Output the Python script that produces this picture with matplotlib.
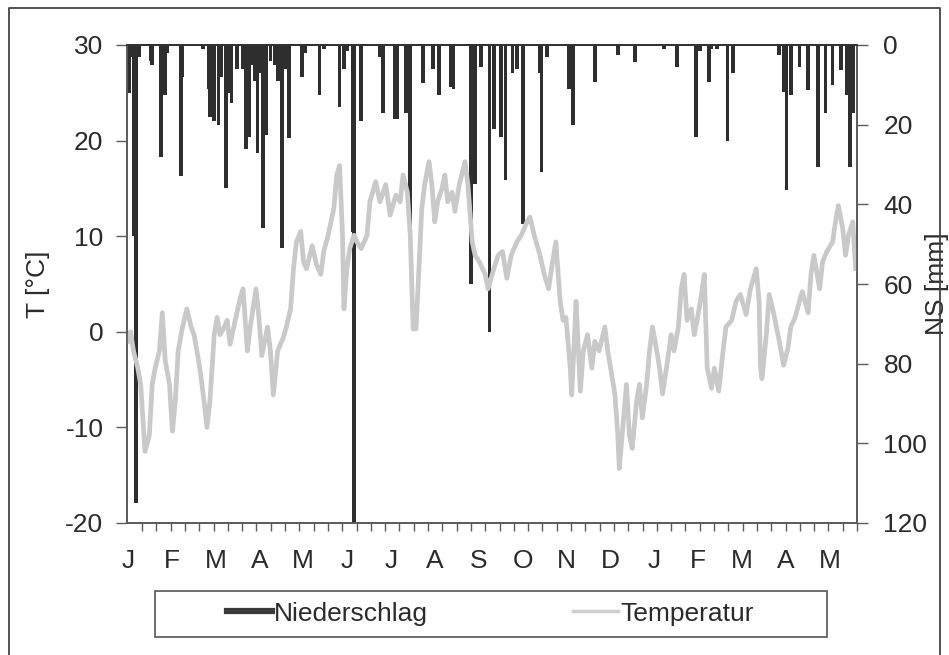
import numpy as np
import matplotlib
matplotlib.use("Agg")
import matplotlib.pyplot as plt
from matplotlib.lines import Line2D

plt.rcParams['font.family'] = ['Liberation Sans', 'DejaVu Sans']
plt.rcParams['axes.unicode_minus'] = False

# days counted from 1 January, daily mean temperature (deg C)
temp_day = [0, 2, 4, 7, 9, 12, 15, 17, 19, 22, 24, 26, 29, 31, 33, 35, 38, 41, 44, 46,
            48, 50, 53, 55, 57, 60, 62, 64, 67, 69, 71, 75, 78, 80, 83, 85, 89, 91, 93, 97,
            99, 101, 104, 106, 108, 110, 113, 115, 117, 120, 122, 124, 128, 131, 134, 136, 139, 143, 145, 147,
            149, 150, 152, 154, 157, 159, 162, 166, 168, 172, 175, 179, 182, 186, 189, 191, 194, 196, 198, 200,
            202, 204, 206, 209, 211, 213, 215, 218, 220, 222, 225, 227, 230, 234, 236, 239, 241, 244, 248, 250,
            254, 257, 260, 263, 266, 270, 273, 277, 279, 282, 286, 289, 292, 294, 297, 300, 302, 304, 307, 308,
            310, 311, 314, 316, 319, 322, 324, 327, 331, 333, 335, 338, 340, 341, 344, 346, 348, 350, 353, 355,
            357, 360, 362, 364, 367, 369, 371, 374, 377, 379, 382, 384, 386, 388, 391, 393, 395, 398, 400, 402,
            405, 407, 410, 413, 415, 419, 422, 425, 429, 432, 436, 438, 439, 440, 443, 445, 448, 452, 455, 458,
            460, 463, 466, 468, 472, 474, 476, 480, 482, 485, 489, 491, 493, 496, 498, 500, 503, 505]
temp_val = [-1, 0, -2, -3.8, -5.5, -12.5, -10.8, -5.5, -3.8, -2, 2, -3, -5.5, -10.4, -7.3, -2, 0.5, 2.4, 0.5, -0.3,
            -2, -3.8, -7.3, -10, -7.3, -0.3, 1.5, -0.3, 0.5, 1.2, -1.3, 1.5, 3.5, 4.5, -2, 0.5, 4.5, 1.5, -2.5, 0.5,
            -2, -6.6, -2, -1.3, -0.6, 0.5, 2.4, 6.6, 9.4, 10.5, 7.3, 6.6, 9, 7, 6, 8.4, 10.1, 12.9, 16.4, 17.4,
            10.1, 2.4, 6.6, 8.7, 10.1, 9.4, 8.7, 10.1, 13.6, 15.7, 13.6, 15.4, 12.2, 14.3, 13.6, 16.4, 14.6, 10.1, 0.3, 0.3,
            6.6, 12.9, 15.4, 17.8, 15.4, 11.5, 13.6, 15, 16.4, 13.6, 14.6, 12.6, 15.4, 17.8, 15.4, 9.4, 8, 7.3, 6, 4.5,
            6.6, 8, 8.4, 5.6, 8, 9.4, 10.1, 11.5, 12, 10.1, 8, 6, 4.5, 6.6, 9.4, 3.2, 1.2, 1.5, -3.8, -6.6,
            -0.3, 3.2, -6.2, -2, -0.3, -3.8, -1, -2, 0.5, -2, -3.8, -6.6, -10.8, -14.3, -9, -5.5, -10.8, -12.2, -7.3, -5.5,
            -9, -5.5, -2, 0.5, -2, -3.8, -6.5, -3.5, -0.3, -2, 0.5, 4.5, 6, 1.2, 2.4, -0.3, 1.2, 3.9, 6, -3.8,
            -5.9, -3.8, -6.2, -2, 0.5, 1.2, 3.2, 3.9, 1.8, 4.5, 6.6, 3.2, -3.8, -4.9, -0.3, 3.9, 2, -1, -3.5, -1.7,
            0.5, 1.5, 3.2, 4.2, 2, 6, 8, 4.5, 7.3, 8.4, 9.4, 11.5, 13.2, 10.8, 8, 10.1, 11.5, 6.6]

# days with precipitation (mm)
rain_day = [1, 2, 3, 4, 6, 8, 16, 17, 23, 25, 26, 27, 37, 38, 52, 56, 57, 58, 60, 63,
            65, 68, 70, 72, 76, 80, 82, 84, 86, 88, 90, 92, 94, 96, 99, 102, 104, 107, 109, 112,
            121, 123, 133, 136, 147, 150, 152, 156, 157, 162, 175, 177, 185, 187, 193, 196, 205, 212, 216, 224,
            226, 238, 241, 245, 251, 254, 259, 262, 267, 270, 274, 286, 287, 291, 306, 309, 324, 340, 352, 372,
            381, 394, 397, 403, 405, 409, 416, 420, 436, 452, 455, 457, 460, 466, 472, 479, 484, 489, 495, 499,
            501, 503]
rain_mm = [12, 3, 3, 48, 115, 3, 4, 5, 28, 3, 12.5, 2, 33, 8, 1, 11, 18, 11, 19, 20,
           8, 36, 12, 14.5, 6, 6, 26, 23, 5, 9, 27, 7, 46, 22.6, 4, 5, 9, 51, 6, 23.4,
           8, 2, 12.5, 1, 15.6, 6, 1.5, 47, 122, 19, 3, 17, 18.5, 18.5, 17, 48, 9.5, 6, 12.5, 10.5,
           11, 60, 35, 5.5, 72, 21, 23, 34, 7, 6, 45, 7, 32, 3, 11, 20, 9.3, 2.5, 4.3, 1,
           5.5, 23, 1.5, 9.3, 1, 1, 24, 7, 0.3, 2.5, 11.8, 36.4, 12.5, 5.5, 11.3, 30.6, 17, 10, 6.3, 12.5,
           30.6, 17]

months = ['J', 'F', 'M', 'A', 'M', 'J', 'J', 'A', 'S', 'O', 'N', 'D', 'J', 'F', 'M', 'A', 'M']

txt = '#2b2b2b'
axc = '#5a5a5a'

fig = plt.figure(figsize=(9.49, 6.55), dpi=100)
ax = fig.add_axes([127 / 949, 132 / 655, 730 / 949, 478 / 655])

# precipitation hangs from the top (inverted right axis)
ax.bar(rain_day, rain_mm, width=2.6, color='#2e2e2e', linewidth=0, zorder=2)
ax.set_ylim(120, 0)
ax.set_xlim(-0.5, 505.5)

ax2 = ax.twinx()
ax2.plot(temp_day, temp_val, color='#c9c9c9', lw=3.4, solid_joinstyle='round')
ax2.set_ylim(-20, 30)

# swap sides: mm on the right, temperature on the left (twinx set them the other way)
ax.yaxis.tick_right()
ax.yaxis.set_label_position('right')
ax.set_yticks(np.arange(0, 121, 20))
ax.set_ylabel('NS [mm]', fontsize=19, color=txt)
ax.yaxis.set_label_coords(1.093, 0.5)

ax2.yaxis.tick_left()
ax2.yaxis.set_label_position('left')
ax2.set_yticks(np.arange(-20, 31, 10))
ax2.set_ylabel('T [°C]', fontsize=19, color=txt)
ax2.yaxis.set_label_coords(-0.105, 0.5)

month_len = 365.25 / 12
ax.set_xticks([i * month_len for i in range(len(months))])
ax.set_xticklabels(months)
ax.set_xticks(np.arange(0, 506, 9.92), minor=True)
ax.tick_params(axis='x', which='major', length=0, pad=19, labelsize=19, labelcolor=txt)
ax.tick_params(axis='x', which='minor', length=6, width=1.0, color=axc, direction='out')
ax.tick_params(axis='y', length=8, width=1.0, color=axc, pad=11, labelsize=19, labelcolor=txt)
ax2.tick_params(axis='y', length=8, width=1.0, color=axc, pad=9, labelsize=19, labelcolor=txt)

for a in (ax, ax2):
    for s in a.spines.values():
        s.set_color(axc)
        s.set_linewidth(1.2)
    a.spines['top'].set_color('#333333')
    a.spines['top'].set_linewidth(1.4)

# legend
handles = [Line2D([], [], color='#3a3a3a', lw=4.5),
           Line2D([], [], color='#cfcfcf', lw=2.5)]
fig.legend(handles, ['Niederschlag', 'Temperatur'], loc='center', ncol=2,
           bbox_to_anchor=(0.517, 0.063), frameon=False, fontsize=19,
           handlelength=1.7, handletextpad=0.08, columnspacing=5.5,
           labelcolor=txt)
fig.patches.append(plt.Rectangle((155 / 949, 18 / 655), 672 / 949, 46 / 655,
                                 transform=fig.transFigure, fill=False,
                                 edgecolor='#555555', lw=1.2))

# outer frame of the figure
fig.add_artist(Line2D([9 / 949, 9 / 949, 940 / 949, 940 / 949],
                      [0, 647 / 655, 647 / 655, 0],
                      transform=fig.transFigure, color='#444444', lw=1.3))

fig.savefig('out.png', dpi=100)
